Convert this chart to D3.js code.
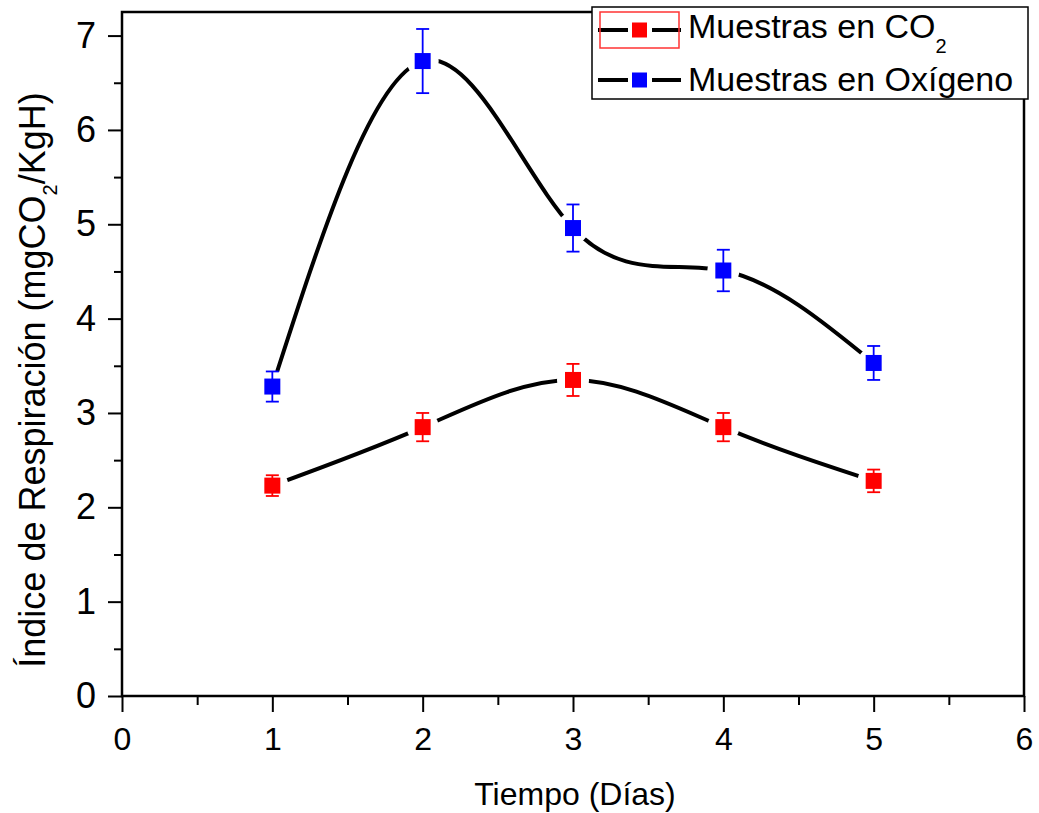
<!DOCTYPE html>
<html>
<head>
<meta charset="utf-8">
<script src="https://cdn.jsdelivr.net/npm/d3@7"></script>
<style>
  body { margin: 0; background: #fff; }
  text { font-family: "Liberation Sans", Arial, sans-serif; }
</style>
</head>
<body>
<svg class="displayContext" width="1039" height="813"></svg>
<script>

// days on the x axis
var days = [1, 2, 3, 4, 5];

// respiration index, CO2 samples
var co2Values = [2.23, 2.85, 3.35, 2.85, 2.28];
var co2Errors = [0.11, 0.15, 0.17, 0.15, 0.12];

// respiration index, oxygen samples
var oxValues = [3.28, 6.73, 4.96, 4.51, 3.53];
var oxErrors = [0.16, 0.34, 0.25, 0.22, 0.18];

var xTicks = [0, 1, 2, 3, 4, 5, 6];
var yTicks = [0, 1, 2, 3, 4, 5, 6, 7];

function drawChart(){

  displayContext = d3.select(".displayContext");

  var left = 122, right = 1024, top = 12, bottom = 696;

  var scaleX = d3.scaleLinear()
                .domain([0, 6])
                .range([left, right]);

  var scaleY = d3.scaleLinear()
                .domain([0, 7.25])
                .range([bottom, top]);

  // frame
  displayContext.append("rect")
    .attr("x", left).attr("y", top)
    .attr("width", right - left).attr("height", bottom - top)
    .attr("fill", "none")
    .attr("stroke", "#000")
    .attr("stroke-width", 2.5);

  // minor ticks
  var x_minor = d3.axisBottom(scaleX)
                  .tickValues(d3.range(0.5, 6, 1))
                  .tickSize(9).tickFormat("");
  var y_minor = d3.axisLeft(scaleY)
                  .tickValues(d3.range(0.5, 7.1, 1))
                  .tickSize(8).tickFormat("");

  var x_axis = d3.axisBottom(scaleX)
                 .tickValues(xTicks)
                 .tickSize(16).tickPadding(15)
                 .tickFormat(d3.format("d"));

  var y_axis = d3.axisLeft(scaleY)
                 .tickValues(yTicks)
                 .tickSize(14).tickPadding(12)
                 .tickFormat(d3.format("d"));

  var gx = displayContext.append("g")
    .attr("transform", "translate(0," + bottom + ")");
  gx.append("g").call(x_minor);
  gx.append("g").call(x_axis);

  var gy = displayContext.append("g")
    .attr("transform", "translate(" + left + ",0)");
  gy.append("g").call(y_minor);
  gy.append("g").call(y_axis);

  displayContext.selectAll(".domain").remove();
  displayContext.selectAll(".tick line")
    .attr("stroke", "#000")
    .attr("stroke-width", 2);
  gx.selectAll(".tick text")
    .attr("font-size", 32)
    .attr("fill", "#000")
    .style("font-family", "'Liberation Sans', Arial, sans-serif");
  gy.selectAll(".tick text")
    .attr("font-size", 36)
    .attr("fill", "#000")
    .style("font-family", "'Liberation Sans', Arial, sans-serif");

  // axis titles
  displayContext.append("text")
    .attr("x", (left + right) / 2 + 2)
    .attr("y", 805)
    .attr("text-anchor", "middle")
    .attr("font-size", 32)
    .text("Tiempo (Días)");

  var yt = displayContext.append("text")
    .attr("transform", "translate(45,380) rotate(-90)")
    .attr("text-anchor", "middle")
    .attr("font-size", 36);
  yt.append("tspan").text("Índice de Respiración (mgCO");
  yt.append("tspan").attr("font-size", 20).attr("dy", 12).text("2");
  yt.append("tspan").attr("dy", -12).text("/KgH)");

  drawSeries(co2Values, co2Errors, "#ff0000", scaleX, scaleY);
  drawSeries(oxValues, oxErrors, "#0000ff", scaleX, scaleY);

  drawLegend();
}


function drawSeries(values, errors, colour, sx, sy){

  var pts = days.map(function(d, i){ return { x: d, y: values[i], e: errors[i] }; });

  var lineFunction = d3.line()
    .x(function(d) { return sx(d.x); })
    .y(function(d) { return sy(d.y); })
    .curve(d3.curveNatural);

  displayContext.append("path")
    .attr("d", lineFunction(pts))
    .attr("stroke", "#000")
    .attr("stroke-width", 4)
    .attr("fill", "none");

  // gap round each point like the original
  displayContext.selectAll(null).data(pts).enter().append("circle")
    .attr("cx", function(d) { return sx(d.x); })
    .attr("cy", function(d) { return sy(d.y); })
    .attr("r", 16)
    .attr("fill", "#fff");

  var err = displayContext.append("g")
    .attr("stroke", colour)
    .attr("stroke-width", 1.8);

  pts.forEach(function(d){
    var cx = sx(d.x);
    err.append("line")
      .attr("x1", cx).attr("x2", cx)
      .attr("y1", sy(d.y + d.e)).attr("y2", sy(d.y - d.e));
    err.append("line")
      .attr("x1", cx - 6.5).attr("x2", cx + 6.5)
      .attr("y1", sy(d.y + d.e)).attr("y2", sy(d.y + d.e));
    err.append("line")
      .attr("x1", cx - 6.5).attr("x2", cx + 6.5)
      .attr("y1", sy(d.y - d.e)).attr("y2", sy(d.y - d.e));
  });

  displayContext.selectAll(null).data(pts).enter().append("rect")
    .attr("x", function(d) { return sx(d.x) - 8; })
    .attr("y", function(d) { return sy(d.y) - 8; })
    .attr("width", 16)
    .attr("height", 16)
    .attr("fill", colour);
}


function drawLegend(){

  var lg = displayContext.append("g");

  lg.append("rect")
    .attr("x", 592).attr("y", 7)
    .attr("width", 436).attr("height", 92)
    .attr("fill", "#fff")
    .attr("stroke", "#000")
    .attr("stroke-width", 1.5);

  var rows = [
    { colour: "#ff0000", y: 30, base: 38, label: "Muestras en CO", sub: "2" },
    { colour: "#0000ff", y: 80, base: 91, label: "Muestras en Oxígeno", sub: null }
  ];

  rows.forEach(function(r){
    lg.append("line")
      .attr("x1", 598).attr("x2", 628).attr("y1", r.y).attr("y2", r.y)
      .attr("stroke", "#000").attr("stroke-width", 4);
    lg.append("line")
      .attr("x1", 652).attr("x2", 681).attr("y1", r.y).attr("y2", r.y)
      .attr("stroke", "#000").attr("stroke-width", 4);
    lg.append("rect")
      .attr("x", 632).attr("y", r.y - 7.5)
      .attr("width", 15).attr("height", 15)
      .attr("fill", r.colour);
    var t = lg.append("text")
      .attr("x", 688).attr("y", r.base)
      .attr("font-size", 34)
      .attr("fill", "#000");
    t.append("tspan").text(r.label);
    if (r.sub) t.append("tspan").attr("font-size", 20).attr("dy", 15).text(r.sub);
  });

  // selection outline round the first sample
  lg.append("rect")
    .attr("x", 600).attr("y", 12)
    .attr("width", 79).attr("height", 36)
    .attr("fill", "none")
    .attr("stroke", "#ff3333")
    .attr("stroke-width", 1.5);
}

drawChart();
</script>
</body>
</html>
